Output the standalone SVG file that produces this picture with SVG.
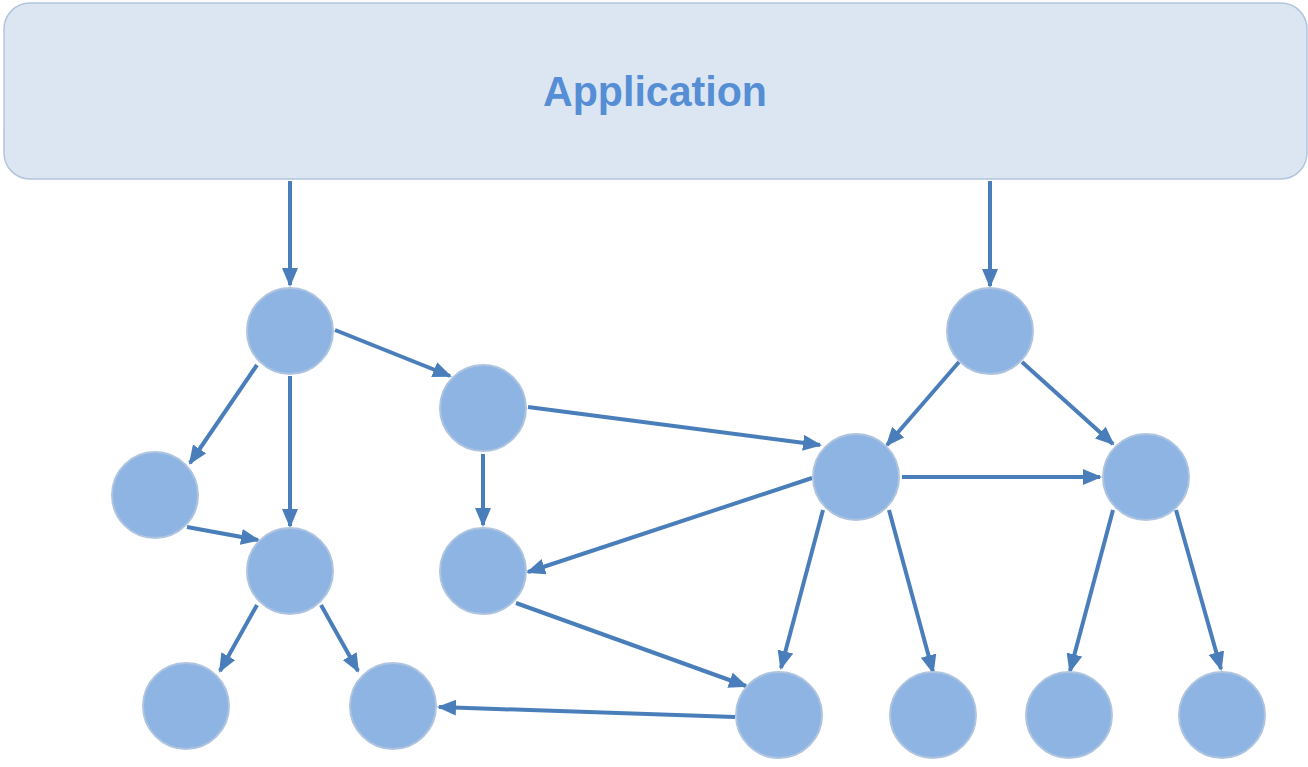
<svg xmlns="http://www.w3.org/2000/svg" width="1308" height="767" viewBox="0 0 1308 767">
<defs>
<style>
.node{fill:#8EB4E3;stroke:#AFC4DF;stroke-width:2}
.edge{stroke:#4A7EBB;stroke-width:4;fill:none;marker-end:url(#ah)}
.app{fill:#DCE6F2;stroke:#B3C5DC;stroke-width:1.5}
.lbl{font-family:"Liberation Sans",Arial,sans-serif;font-weight:bold;font-size:42px;fill:#558ED5}
</style>
<marker id="ah" viewBox="0 0 19 16" refX="17" refY="8" markerWidth="19" markerHeight="16" orient="auto" markerUnits="userSpaceOnUse">
<path d="M0,0 L19,8 L0,16 Z" fill="#4A7EBB"/>
</marker>
</defs>
<rect width="1308" height="767" fill="#FFFFFF"/>
<g id="application">
<rect class="app" x="4" y="3" width="1303" height="176" rx="26" ry="26"/>
<text class="lbl" x="655" y="106" text-anchor="middle" textLength="224" lengthAdjust="spacingAndGlyphs">Application</text>
</g>
<g id="connectors">
<line class="edge" x1="290" y1="181" x2="290" y2="285"/>
<line class="edge" x1="990" y1="181" x2="990" y2="286"/>
<line class="edge" x1="335" y1="330" x2="450" y2="376"/>
<line class="edge" x1="257" y1="365" x2="190" y2="463"/>
<line class="edge" x1="290" y1="376" x2="290" y2="526"/>
<line class="edge" x1="187" y1="527" x2="258" y2="540"/>
<line class="edge" x1="528" y1="407" x2="820" y2="445"/>
<line class="edge" x1="483" y1="454" x2="483" y2="525"/>
<line class="edge" x1="959" y1="362" x2="887" y2="445"/>
<line class="edge" x1="1022" y1="362" x2="1113" y2="444"/>
<line class="edge" x1="902" y1="477" x2="1100" y2="477"/>
<line class="edge" x1="812" y1="478" x2="528" y2="572"/>
<line class="edge" x1="823" y1="510" x2="781" y2="668"/>
<line class="edge" x1="889" y1="510" x2="933" y2="672"/>
<line class="edge" x1="1113" y1="510" x2="1070" y2="671"/>
<line class="edge" x1="1176" y1="510" x2="1221" y2="669"/>
<line class="edge" x1="257" y1="605" x2="220" y2="671"/>
<line class="edge" x1="321" y1="605" x2="358" y2="671"/>
<line class="edge" x1="516" y1="603" x2="746" y2="686"/>
<line class="edge" x1="735" y1="717" x2="439" y2="707"/>
</g>
<g id="n1"><circle class="node" cx="290" cy="331" r="43"/></g>
<g id="n2"><circle class="node" cx="483" cy="408" r="43"/></g>
<g id="n3"><circle class="node" cx="990" cy="331" r="43"/></g>
<g id="n4"><circle class="node" cx="155" cy="495" r="43"/></g>
<g id="n5"><circle class="node" cx="290" cy="571" r="43"/></g>
<g id="n6"><circle class="node" cx="483" cy="571" r="43"/></g>
<g id="n7"><circle class="node" cx="856" cy="477" r="43"/></g>
<g id="n8"><circle class="node" cx="1146" cy="477" r="43"/></g>
<g id="n9"><circle class="node" cx="186" cy="706" r="43"/></g>
<g id="n10"><circle class="node" cx="393" cy="706" r="43"/></g>
<g id="n11"><circle class="node" cx="779" cy="715" r="43"/></g>
<g id="n12"><circle class="node" cx="933" cy="715" r="43"/></g>
<g id="n13"><circle class="node" cx="1069" cy="715" r="43"/></g>
<g id="n14"><circle class="node" cx="1222" cy="715" r="43"/></g>
</svg>
